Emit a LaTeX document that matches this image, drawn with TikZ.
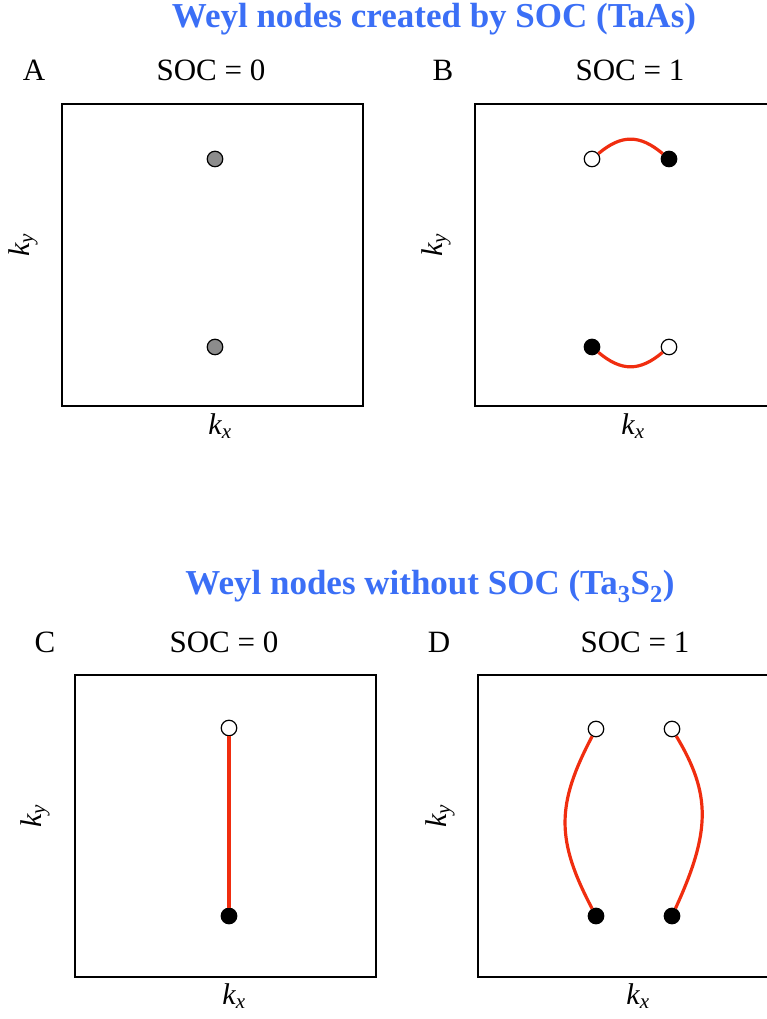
\documentclass[tikz,border=0pt]{standalone}
\usepackage{fontspec}
\setmainfont{Liberation Serif}
\usetikzlibrary{positioning}

\definecolor{titleblue}{RGB}{59,111,246}
\definecolor{arcred}{RGB}{240,45,15}
\definecolor{dotgray}{RGB}{140,140,140}

\begin{document}
\begin{tikzpicture}[
    x=1pt, y=1pt,
    title/.style={anchor=base, text=titleblue, font=\fontsize{35}{40}\selectfont\bfseries},
    lbl/.style={anchor=base, font=\fontsize{31}{36}\selectfont},
    axis/.style={anchor=base, font=\fontsize{30}{34}\selectfont\itshape},
    frame/.style={draw, line width=1.4pt, minimum width=301pt, minimum height=302pt, inner sep=0pt},
    dot/.style={circle, draw, line width=1.2pt, minimum size=15.5pt, inner sep=0pt},
    opendot/.style={dot, fill=white},
    fulldot/.style={dot, fill=black},
    graydot/.style={dot, fill=dotgray},
    arc/.style={arcred, line width=3.2pt}
]
    \useasboundingbox (0,0) rectangle (767,1019);

    % Upper titles
    \node[title] (topTitle) at (434,991) {Weyl nodes created by SOC (TaAs)};
    \node[lbl] (labA) at (34,938) {A};
    \node[lbl] (socA) at (211,938) {SOC = 0};
    \node[lbl] (labB) at (443,938) {B};
    \node[lbl] (socB) at (630,938) {SOC = 1};

    % Panel A
    \node[frame] (boxA) at (212.5,764) {};
    \node[axis] (kxA) at (220,584) {k\textsubscript{x}};
    \node[axis, rotate=90, anchor=center] (kyA) at (23,774) {k\textsubscript{y}};
    \node[graydot] (aTop) at (215,860) {};
    \node[graydot] (aBot) at (215,672) {};

    % Panel B
    \node[frame] (boxB) at (625.5,764) {};
    \node[axis] (kxB) at (633,584) {k\textsubscript{x}};
    \node[axis, rotate=90, anchor=center] (kyB) at (436,774) {k\textsubscript{y}};
    \node[opendot] (bTopOpen) at (592,860) {};
    \node[fulldot] (bTopFull) at (669,860) {};
    \node[fulldot] (bBotFull) at (592,672) {};
    \node[opendot] (bBotOpen) at (669,672) {};
    \draw[arc] (bTopOpen) to[out=40, in=140, looseness=1.2] (bTopFull);
    \draw[arc] (bBotFull) to[out=-40, in=-140, looseness=1.2] (bBotOpen);

    % Lower titles
    \node[title] (lowTitle) at (430,424) {Weyl nodes without SOC (Ta\textsubscript{3}S\textsubscript{2})};
    \node[lbl] (labC) at (45,366) {C};
    \node[lbl] (socC) at (224,366) {SOC = 0};
    \node[lbl] (labD) at (439,366) {D};
    \node[lbl] (socD) at (635,366) {SOC = 1};

    % Panel C
    \node[frame] (boxC) at (225.5,193) {};
    \node[axis] (kxC) at (234,14) {k\textsubscript{x}};
    \node[axis, rotate=90, anchor=center] (kyC) at (35,203) {k\textsubscript{y}};
    \node[opendot] (cOpen) at (229,291) {};
    \node[fulldot] (cFull) at (229,103) {};
    \draw[arc] (cOpen) -- (cFull);

    % Panel D
    \node[frame] (boxD) at (628.5,193) {};
    \node[axis] (kxD) at (638,14) {k\textsubscript{x}};
    \node[axis, rotate=90, anchor=center] (kyD) at (440,203) {k\textsubscript{y}};
    \node[opendot] (dLeftOpen) at (596,290) {};
    \node[opendot] (dRightOpen) at (672,290) {};
    \node[fulldot] (dLeftFull) at (596,103) {};
    \node[fulldot] (dRightFull) at (672,103) {};
    \draw[arc] (dLeftOpen) .. controls (556,214) and (556,179) .. (dLeftFull);
    \draw[arc] (dRightOpen) .. controls (711,225) and (711,188) .. (dRightFull);
\end{tikzpicture}
\end{document}
